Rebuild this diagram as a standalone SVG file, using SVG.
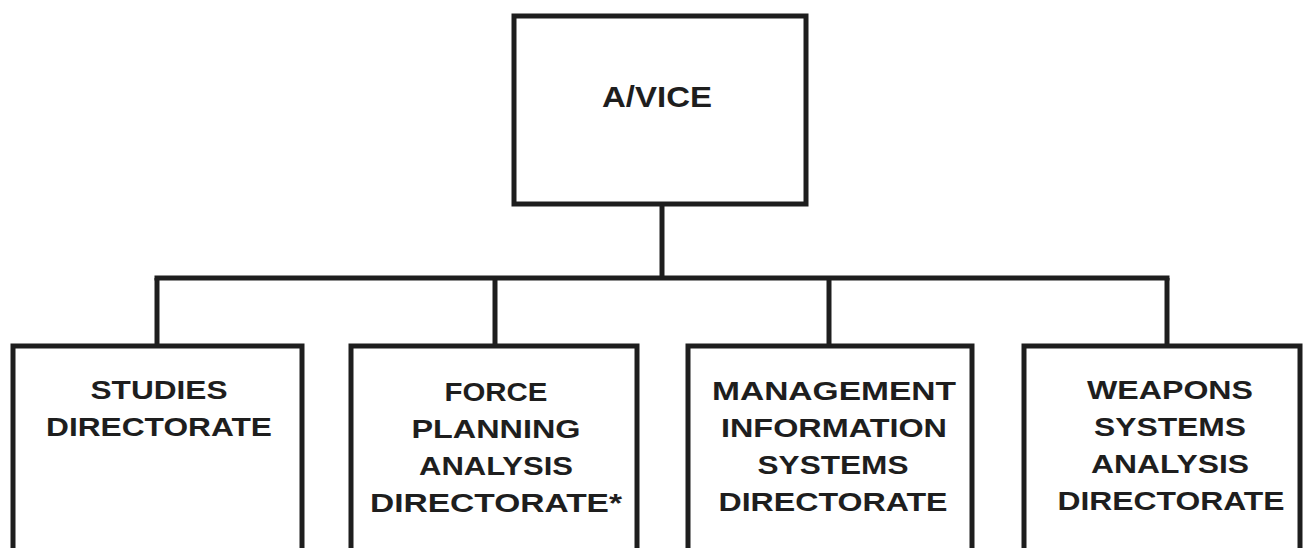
<svg xmlns="http://www.w3.org/2000/svg" width="1303" height="548" viewBox="0 0 1303 548">
<style>
.box{fill:#fff;stroke:#1e1e1e;stroke-width:5}
.ln{fill:none;stroke:#1e1e1e;stroke-width:5}
text{font-family:"Liberation Sans",Arial,sans-serif;font-weight:bold;font-size:26px;fill:#1e1e1e;text-anchor:middle}
</style>
<rect width="1303" height="548" fill="#fff"/>
<g id="connectors">
<line class="ln" x1="662" y1="204" x2="662" y2="278"/>
<line class="ln" x1="154.5" y1="278" x2="1169.5" y2="278"/>
<line class="ln" x1="157" y1="278" x2="157" y2="346"/>
<line class="ln" x1="495" y1="278" x2="495" y2="346"/>
<line class="ln" x1="829" y1="278" x2="829" y2="346"/>
<line class="ln" x1="1167" y1="278" x2="1167" y2="346"/>
</g>
<g id="avice">
<rect class="box" x="514" y="16" width="292" height="188"/>
<text x="657" y="107" style="font-size:30px" textLength="110" lengthAdjust="spacingAndGlyphs">A/VICE</text>
</g>
<g id="studies">
<rect class="box" x="13" y="346" width="289" height="220"/>
<text x="159" y="399" textLength="137" lengthAdjust="spacingAndGlyphs">STUDIES</text>
<text x="159" y="436" textLength="226" lengthAdjust="spacingAndGlyphs">DIRECTORATE</text>
</g>
<g id="force">
<rect class="box" x="351" y="346" width="286" height="220"/>
<text x="496" y="401" textLength="103" lengthAdjust="spacingAndGlyphs">FORCE</text>
<text x="496" y="438" textLength="169" lengthAdjust="spacingAndGlyphs">PLANNING</text>
<text x="496" y="475" textLength="154" lengthAdjust="spacingAndGlyphs">ANALYSIS</text>
<text x="496" y="512" textLength="252" lengthAdjust="spacingAndGlyphs">DIRECTORATE*</text>
</g>
<g id="management">
<rect class="box" x="688" y="346" width="284" height="220"/>
<text x="834" y="400" textLength="244" lengthAdjust="spacingAndGlyphs">MANAGEMENT</text>
<text x="834" y="437" textLength="226" lengthAdjust="spacingAndGlyphs">INFORMATION</text>
<text x="833" y="474" textLength="151" lengthAdjust="spacingAndGlyphs">SYSTEMS</text>
<text x="833" y="511" textLength="229" lengthAdjust="spacingAndGlyphs">DIRECTORATE</text>
</g>
<g id="weapons">
<rect class="box" x="1024" y="346" width="276" height="220"/>
<text x="1170" y="399" textLength="166" lengthAdjust="spacingAndGlyphs">WEAPONS</text>
<text x="1170" y="436" textLength="152" lengthAdjust="spacingAndGlyphs">SYSTEMS</text>
<text x="1170" y="473" textLength="158" lengthAdjust="spacingAndGlyphs">ANALYSIS</text>
<text x="1171" y="510" textLength="227" lengthAdjust="spacingAndGlyphs">DIRECTORATE</text>
</g>
</svg>
